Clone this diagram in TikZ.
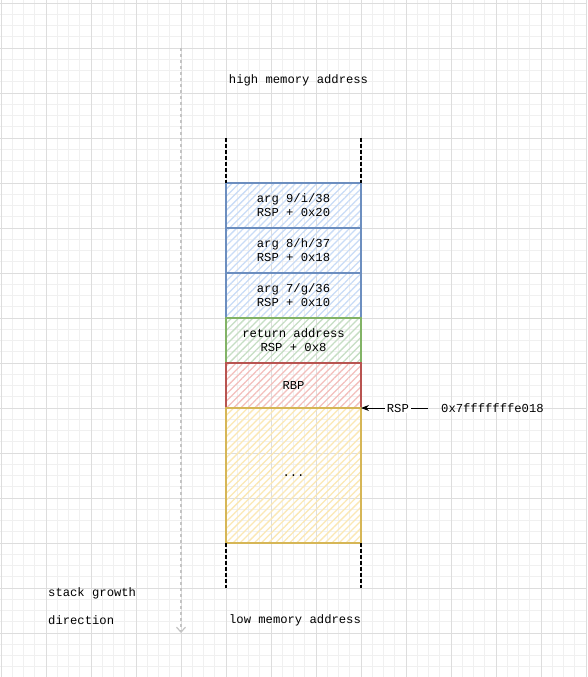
\documentclass[tikz,border=0pt]{standalone}
\usepackage{fontspec}
\setmonofont{Liberation Mono}
\usetikzlibrary{positioning,arrows.meta,patterns.meta}
\definecolor{blueLine}{HTML}{6C8EBF}
\definecolor{blueFill}{HTML}{C9DCF7}
\definecolor{greenLine}{HTML}{82B366}
\definecolor{greenFill}{HTML}{C6DEC4}
\definecolor{redLine}{HTML}{B85450}
\definecolor{redFill}{HTML}{F3C0BD}
\definecolor{yellowLine}{HTML}{D6B656}
\definecolor{yellowFill}{HTML}{FBE8B4}
\definecolor{gridMajor}{HTML}{DDDDDD}
\definecolor{gridMinor}{HTML}{F0F0F0}
\definecolor{growGray}{HTML}{C4C4C4}

\begin{document}
\begin{tikzpicture}[x=1pt,y=-1pt,
		txt/.style={font=\ttfamily\fontsize{12.2}{14}\selectfont, inner sep=0pt, align=center},
		cell/.style={txt, draw=#1Line, line width=1.5pt, outer sep=0pt, minimum width=135pt, minimum height=45pt,
			pattern={Lines[angle=45,distance=5pt,line width=1.3pt]}, pattern color=#1Fill},
		wall/.style={line width=1.2pt, dash pattern=on 4pt off 2pt},
		ptr/.style={line width=1pt, -{Stealth[length=8pt,width=6pt]}},
		growth/.style={draw=growGray, line width=1.2pt, dash pattern=on 3pt off 3pt, -{Straight Barb[length=5pt,width=9pt]}}]
			%%%%% START %%%%%
			
			\useasboundingbox (0,0) rectangle (587,677);
			\fill[white] (0,0) rectangle (587,677);
			
			% background grid
			\foreach \k in {0,...,52} \draw[gridMinor, line width=0.8pt] ({1+11.25*\k},0) -- ({1+11.25*\k},677);
			\foreach \k in {0,...,59} \draw[gridMinor, line width=0.8pt] (0,{3+11.25*\k}) -- (587,{3+11.25*\k});
			\foreach \k in {0,...,13} \draw[gridMajor, line width=0.8pt] ({1+45*\k},0) -- ({1+45*\k},677);
			\foreach \k in {0,...,14} \draw[gridMajor, line width=0.8pt] (0,{3+45*\k}) -- (587,{3+45*\k});
			
			% stack cells
			\node[cell=blue] (arg9) at (293.5,205.5) {arg 9/i/38\\RSP + 0x20};
			\node[cell=blue, below=0pt of arg9] (arg8) {arg 8/h/37\\RSP + 0x18};
			\node[cell=blue, below=0pt of arg8] (arg7) {arg 7/g/36\\RSP + 0x10};
			\node[cell=green, below=0pt of arg7] (ret) {return address\\RSP + 0x8};
			\node[cell=red, below=0pt of ret] (rbp) {RBP};
			\node[cell=yellow, minimum height=135pt, below=0pt of rbp] (rest) {...};
			
			% open ends of the stack
			\coordinate[above=45pt of arg9.north west] (hiL);
			\coordinate[above=45pt of arg9.north east] (hiR);
			\coordinate[below=45pt of rest.south west] (loL);
			\coordinate[below=45pt of rest.south east] (loR);
			\draw[wall] (hiL) -- (arg9.north west);
			\draw[wall] (hiR) -- (arg9.north east);
			\draw[wall] (rest.south west) -- (loL);
			\draw[wall] (rest.south east) -- (loR);
			
			% stack pointer
			\coordinate[right=67pt of rest.north east] (rspTail);
			\draw[ptr] (rspTail) -- node[txt, fill=white, inner xsep=2pt, inner ysep=1pt, pos=0.45] (rspLbl) {RSP} (rest.north east);
			\node[txt, right=13pt of rspTail] (addr) {0x7fffffffe018};
			
			\node[txt] (hiMem) at (298.5,80) {high memory address};
			\node[txt] (loMem) at (295,620) {low memory address};
			
			% growth direction
			\node[txt, anchor=west] (grow1) at (48,593) {stack growth};
			\node[txt, anchor=west] (grow2) at (48,620) {direction};
			\coordinate (gTop) at (181,48);
			\coordinate (gBot) at (181,633);
			\draw[growth] (gTop) -- (gBot);
			
			%%%%% END %%%%%
		\end{tikzpicture}
\end{document}
